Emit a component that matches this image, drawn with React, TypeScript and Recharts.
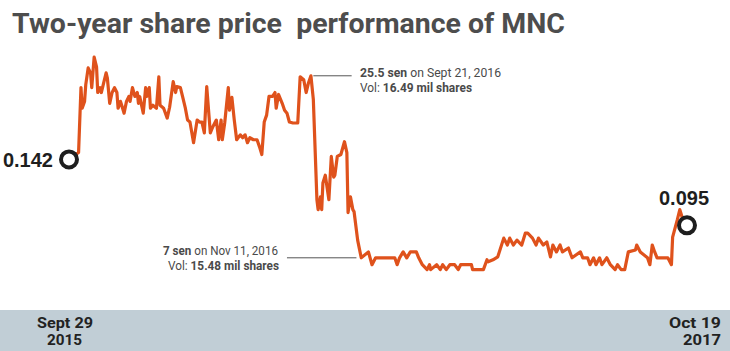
import { LineChart, Line, XAxis, YAxis, ReferenceDot, ReferenceLine } from "recharts";

// trading-day index since Sept 29, 2015
const days = [
  0, 8, 10, 11, 13, 14, 16, 18, 19, 21, 23, 24, 26, 27, 29, 31, 32, 34, 36, 38,
  40, 41, 43, 44, 46, 48, 50, 51, 53, 55, 57, 58, 59, 62, 64, 65, 67, 68, 70, 73,
  75, 76, 79, 82, 84, 87, 89, 90, 93, 95, 97, 99, 101, 104, 107, 109, 111, 113, 115, 118,
  120, 123, 125, 127, 128, 130, 133, 134, 136, 138, 140, 143, 145, 147, 149, 151, 154, 157, 159, 161,
  163, 165, 167, 170, 172, 173, 175, 178, 180, 182, 184, 187, 191, 193, 196, 198, 200, 202, 204, 207,
  208, 210, 211, 212, 214, 217, 219, 221, 222, 224, 227, 230, 232, 233, 235, 237, 238, 241, 244, 250,
  253, 256, 272, 274, 276, 279, 282, 285, 290, 292, 295, 299, 301, 302, 307, 310, 312, 315, 318, 322,
  325, 327, 331, 336, 337, 346, 349, 350, 354, 358, 363, 366, 368, 371, 374, 378, 381, 383, 387, 390,
  392, 396, 399, 402, 404, 407, 410, 412, 417, 420, 427, 429, 433, 435, 438, 440, 443, 445, 449, 452,
  456, 458, 461, 464, 467, 473, 474, 477, 483, 485, 487, 489, 491, 500, 503, 504, 508, 510, 512, 516,
];

// closing price, RM
const prices = [
  0.170, 0.177, 0.243, 0.222, 0.229, 0.246, 0.263, 0.258, 0.243, 0.274, 0.264, 0.238, 0.243, 0.238, 0.248, 0.258, 0.253, 0.227, 0.238, 0.243,
  0.238, 0.222, 0.229, 0.225, 0.217, 0.229, 0.234, 0.229, 0.243, 0.234, 0.238, 0.227, 0.234, 0.217, 0.243, 0.234, 0.243, 0.222, 0.225, 0.222,
  0.254, 0.225, 0.222, 0.212, 0.223, 0.249, 0.238, 0.244, 0.243, 0.233, 0.223, 0.210, 0.208, 0.187, 0.210, 0.208, 0.208, 0.197, 0.244, 0.197,
  0.203, 0.210, 0.190, 0.210, 0.190, 0.207, 0.243, 0.220, 0.233, 0.210, 0.190, 0.195, 0.192, 0.195, 0.187, 0.192, 0.190, 0.190, 0.183, 0.175,
  0.208, 0.215, 0.234, 0.234, 0.238, 0.222, 0.236, 0.227, 0.220, 0.217, 0.208, 0.207, 0.207, 0.254, 0.251, 0.238, 0.248, 0.255, 0.231, 0.129,
  0.119, 0.132, 0.119, 0.146, 0.154, 0.129, 0.173, 0.152, 0.154, 0.173, 0.175, 0.188, 0.177, 0.116, 0.132, 0.119, 0.117, 0.088, 0.070, 0.076,
  0.063, 0.070, 0.070, 0.063, 0.070, 0.076, 0.070, 0.076, 0.076, 0.070, 0.063, 0.058, 0.063, 0.058, 0.063, 0.058, 0.063, 0.058, 0.063, 0.063,
  0.058, 0.063, 0.063, 0.063, 0.058, 0.058, 0.068, 0.066, 0.068, 0.071, 0.090, 0.083, 0.090, 0.083, 0.088, 0.083, 0.095, 0.095, 0.090, 0.083,
  0.090, 0.083, 0.086, 0.071, 0.083, 0.076, 0.083, 0.076, 0.080, 0.070, 0.076, 0.070, 0.070, 0.063, 0.070, 0.063, 0.070, 0.063, 0.070, 0.063,
  0.058, 0.063, 0.058, 0.058, 0.076, 0.078, 0.083, 0.076, 0.070, 0.063, 0.083, 0.076, 0.070, 0.070, 0.063, 0.091, 0.109, 0.119, 0.111, 0.103,
];

const data = days.map((day, i) => ({ day, price: prices[i] }));

const startLabel = "0.142";
const endLabel = "0.095";

const ORANGE = "#df521c";
const GREY = "#555555";

export default function App() {
  return (
    <div style={{ position: "absolute", left: 0, top: 0, width: 730, height: 351, background: "#fff" }}>
      <svg width={730} height={351} style={{ position: "absolute", left: 0, top: 0 }}>
        <text
          x={12}
          y={33}
          fontFamily="Roboto"
          fontWeight={700}
          fontSize={28}
          fill="#4d4d4d"
          textLength={553}
          lengthAdjust="spacingAndGlyphs"
          style={{ whiteSpace: "pre" }}
        >
          Two-year share price  performance of MNC
        </text>

        <g fontFamily="Roboto" fontSize={12} fill="#4a4a4a">
          <text x={360} y={77} textLength={141} lengthAdjust="spacingAndGlyphs">
            <tspan fontWeight={700}>25.5 sen</tspan> on Sept 21, 2016
          </text>
          <text x={360} y={92} textLength={112} lengthAdjust="spacingAndGlyphs">
            Vol: <tspan fontWeight={700}>16.49 mil shares</tspan>
          </text>
          <text x={163} y={255} textLength={115} lengthAdjust="spacingAndGlyphs">
            <tspan fontWeight={700}>7 sen</tspan> on Nov 11, 2016
          </text>
          <text x={168} y={270} textLength={111} lengthAdjust="spacingAndGlyphs">
            Vol: <tspan fontWeight={700}>15.48 mil shares</tspan>
          </text>
        </g>

        <rect x={0} y={310} width={730} height={41} fill="#c1ced6" />
        <g fontFamily="Roboto" fontWeight={700} fontSize={14} fill="#222">
          <text x={37} y={328} textLength={56} lengthAdjust="spacingAndGlyphs">Sept 29</text>
          <text x={47} y={345} textLength={35} lengthAdjust="spacingAndGlyphs">2015</text>
          <text x={669} y={328} textLength={52} lengthAdjust="spacingAndGlyphs">Oct 19</text>
          <text x={683} y={345} textLength={38} lengthAdjust="spacingAndGlyphs">2017</text>
        </g>
      </svg>

      <div style={{ position: "absolute", left: 0, top: 0 }}>
        <LineChart width={730} height={351} data={data} margin={{ top: 2, right: 43, bottom: 44, left: 69 }}>
          <XAxis dataKey="day" type="number" domain={[0, 516]} hide />
          <YAxis type="number" domain={[0.02, 0.33]} hide />
          <ReferenceLine
            segment={[{ x: 204, y: 0.255 }, { x: 236, y: 0.255 }]}
            stroke={GREY}
            strokeWidth={1}
            ifOverflow="visible"
          />
          <ReferenceLine
            segment={[{ x: 182, y: 0.07 }, { x: 240, y: 0.07 }]}
            stroke={GREY}
            strokeWidth={1}
            ifOverflow="visible"
          />
          <Line
            type="linear"
            dataKey="price"
            stroke={ORANGE}
            strokeWidth={3.2}
            strokeLinejoin="round"
            dot={false}
            isAnimationActive={false}
          />
          <ReferenceDot
            x={0}
            y={0.17}
            r={8}
            fill="#fff"
            stroke="#1e1e1e"
            strokeWidth={4}
            ifOverflow="visible"
            label={{
              value: startLabel,
              position: "left",
              offset: 8,
              fill: "#1e1e1e",
              fontSize: 20,
              fontWeight: 700,
              fontFamily: "Liberation Sans",
            }}
          />
          <ReferenceDot
            x={516}
            y={0.103}
            r={8}
            fill="#fff"
            stroke="#1e1e1e"
            strokeWidth={4}
            ifOverflow="visible"
            label={{
              value: endLabel,
              position: "top",
              offset: 12,
              dx: -3,
              fill: "#1e1e1e",
              fontSize: 20,
              fontWeight: 700,
              fontFamily: "Liberation Sans",
            }}
          />
        </LineChart>
      </div>
    </div>
  );
}
